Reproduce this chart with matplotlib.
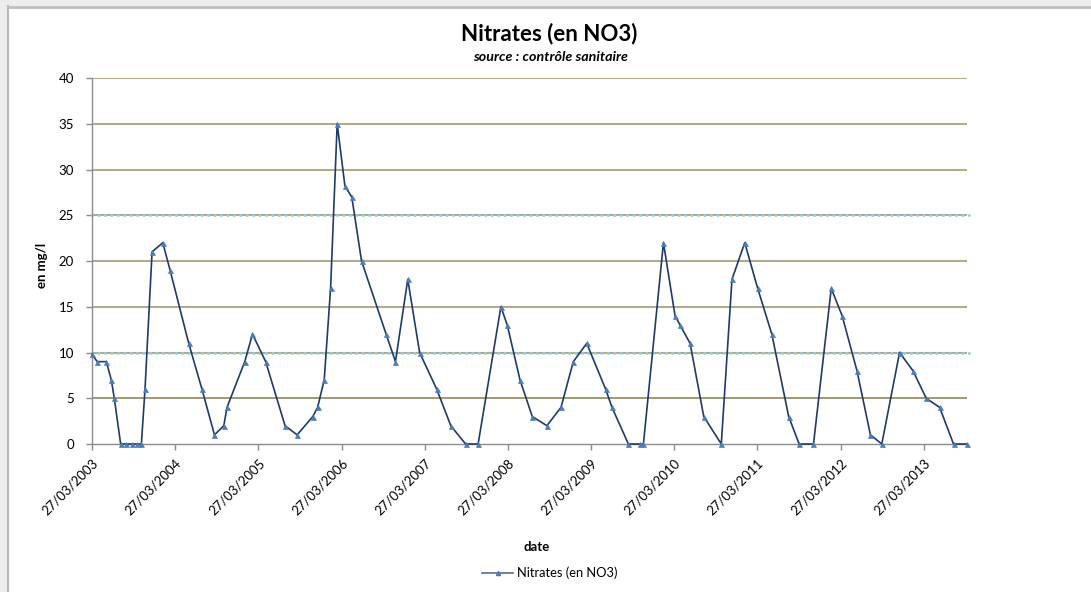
"""
Nitrates (en NO3) - contrôle sanitaire, 2003-2013.
Line chart in the style of the Excel export, saved to out.png.
"""

import datetime as dt
import matplotlib.pyplot as plt
import matplotlib.dates as mdates
from matplotlib.lines import Line2D
from matplotlib.patches import Rectangle

# ---------------------------------------------------------------------------
# Data
# ---------------------------------------------------------------------------
dates = [
    "2003-03-27", "2003-04-19", "2003-05-29", "2003-06-20", "2003-07-03",
    "2003-07-31", "2003-08-23", "2003-09-17", "2003-10-09", "2003-10-30",
    "2003-11-15", "2003-12-16", "2004-02-01", "2004-03-04", "2004-05-25",
    "2004-07-22", "2004-09-15", "2004-10-26", "2004-11-09", "2005-01-26",
    "2005-03-01", "2005-04-28", "2005-07-22", "2005-09-13", "2005-11-21",
    "2005-12-12", "2006-01-10", "2006-02-07", "2006-03-08", "2006-04-11",
    "2006-05-11", "2006-06-23", "2006-10-09", "2006-11-19", "2007-01-12",
    "2007-03-05", "2007-05-19", "2007-07-20", "2007-09-23", "2007-11-17",
    "2008-02-25", "2008-03-24", "2008-05-19", "2008-07-12", "2008-09-14",
    "2008-11-15", "2009-01-08", "2009-03-08", "2009-05-30", "2009-06-27",
    "2009-09-07", "2009-10-28", "2009-11-12", "2010-02-08", "2010-03-31",
    "2010-04-22", "2010-06-05", "2010-08-04", "2010-10-20", "2010-12-06",
    "2011-01-31", "2011-03-29", "2011-05-30", "2011-08-12", "2011-09-27",
    "2011-11-29", "2012-02-15", "2012-04-03", "2012-06-07", "2012-08-05",
    "2012-09-24", "2012-12-11", "2013-02-08", "2013-04-07", "2013-06-05",
    "2013-08-05", "2013-10-03",
]
nitrates = [
    9.8, 9, 9, 7, 5,
    0, 0, 0, 0, 0,
    6, 21, 22, 19, 11,
    6, 1, 2, 4, 9,
    12, 9, 2, 1, 3,
    4, 7, 17, 35, 28.2,
    27, 20, 12, 9, 18,
    10, 6, 2, 0, 0,
    15, 13, 7, 3, 2,
    4, 9, 11, 6, 4,
    0, 0, 0, 22, 14,
    13, 11, 3, 0, 18,
    22, 17, 12, 3, 0,
    0, 17, 14, 8, 1,
    0, 10, 8, 5, 4,
    0, 0,
]
y_ticks = [0, 5, 10, 15, 20, 25, 30, 35, 40]
thresholds = [10, 25]          # dotted reference lines
tick_years = list(range(2003, 2014))

x = [dt.datetime.strptime(d, "%Y-%m-%d") for d in dates]

# ---------------------------------------------------------------------------
# Style
# ---------------------------------------------------------------------------
plt.rcParams["font.family"] = ["Lato", "DejaVu Sans"]

LINE_COLOR   = "#1f3a6b"
MARKER_COLOR = "#4a7ebb"
GRID_COLOR   = "#b3aa86"
GRID_DARK    = "#8c7e3e"
REF_COLOR    = "#8fd2e6"
AXIS_COLOR   = "#8c8c8c"

fig = plt.figure(figsize=(10.91, 5.92), dpi=100)
ax = fig.add_axes([0.0843, 0.25, 0.8020, 0.6182])

# window frame (grey band on top / left like the screenshot)
fig.patches.append(Rectangle((0, 0), 7 / 1091, 1, transform=fig.transFigure,
                             facecolor="#ededed", edgecolor="none", zorder=0))
fig.patches.append(Rectangle((0, 1 - 6 / 592), 1, 6 / 592, transform=fig.transFigure,
                             facecolor="#ededed", edgecolor="none", zorder=0))
fig.lines.append(Line2D([7.5 / 1091] * 2, [0, 1 - 6 / 592], transform=fig.transFigure,
                        color="#b8b8b8", linewidth=1.5))
fig.lines.append(Line2D([7.5 / 1091, 1], [1 - 6.5 / 592] * 2, transform=fig.transFigure,
                        color="#bdbdbd", linewidth=2))

# ---------------------------------------------------------------------------
# Grid + reference lines
# ---------------------------------------------------------------------------
for v in y_ticks[1:]:
    ax.axhline(v, color=GRID_DARK if v == 5 else GRID_COLOR,
               linewidth=1.1 if v == 5 else 1.5, zorder=1)

for v in thresholds:
    ax.plot([x[0], x[-1] + dt.timedelta(days=25)], [v, v], color=REF_COLOR,
            linewidth=2.2, linestyle=(0, (0.01, 2.1)), dash_capstyle="round",
            zorder=2, clip_on=False)

# ---------------------------------------------------------------------------
# Series
# ---------------------------------------------------------------------------
ax.plot(x, nitrates, color=LINE_COLOR, linewidth=1.2, zorder=3,
        marker="^", markersize=3.6, markerfacecolor=MARKER_COLOR,
        markeredgecolor=MARKER_COLOR, markeredgewidth=0.5,
        label="Nitrates (en NO3)", clip_on=False)

# ---------------------------------------------------------------------------
# Axes
# ---------------------------------------------------------------------------
ax.set_ylim(0, 40)
ax.set_yticks(y_ticks)
ax.set_xlim(x[0], x[-1])
ax.set_xticks([dt.datetime(yr, 3, 27) for yr in tick_years])
ax.xaxis.set_major_formatter(mdates.DateFormatter("%d/%m/%Y"))
for lbl in ax.get_xticklabels():
    lbl.set_rotation(45)
    lbl.set_ha("right")
    lbl.set_rotation_mode("anchor")

ax.tick_params(axis="both", colors=AXIS_COLOR, labelcolor="black",
               labelsize=9.5, length=4, width=1)
ax.tick_params(axis="y", pad=9)
ax.tick_params(axis="x", pad=5)
for side in ("top", "right"):
    ax.spines[side].set_visible(False)
for side in ("left", "bottom"):
    ax.spines[side].set_color(AXIS_COLOR)
    ax.spines[side].set_linewidth(1)
    ax.spines[side].set_zorder(2.5)

fig.text(42 / 1091, 1 - 265 / 592, "en mg/l", rotation=90, ha="center", va="center",
         fontsize=9.5, fontweight="bold")
fig.text(537 / 1091, 1 - 547 / 592, "date", ha="center", va="center",
         fontsize=9.5, fontweight="bold")

fig.text(549 / 1091, 1 - 34 / 592, "Nitrates (en NO3)", ha="center", va="center",
         fontsize=16, fontweight="bold")
fig.text(551 / 1091, 1 - 57 / 592, "source : contrôle sanitaire", ha="center",
         va="center", fontsize=10.3, fontweight="bold", fontstyle="italic")

fig.legend(handles=[Line2D([], [], color="#4f6fa0", linewidth=1.2, marker="^",
                           markersize=3, markerfacecolor=MARKER_COLOR,
                           markeredgecolor=MARKER_COLOR)],
           labels=["Nitrates (en NO3)"], loc="center",
           bbox_to_anchor=(550 / 1091, 1 - 573 / 592), frameon=False,
           fontsize=9.3, handlelength=2.4, handletextpad=0.3)

fig.savefig("out.png", dpi=100)
plt.close(fig)
